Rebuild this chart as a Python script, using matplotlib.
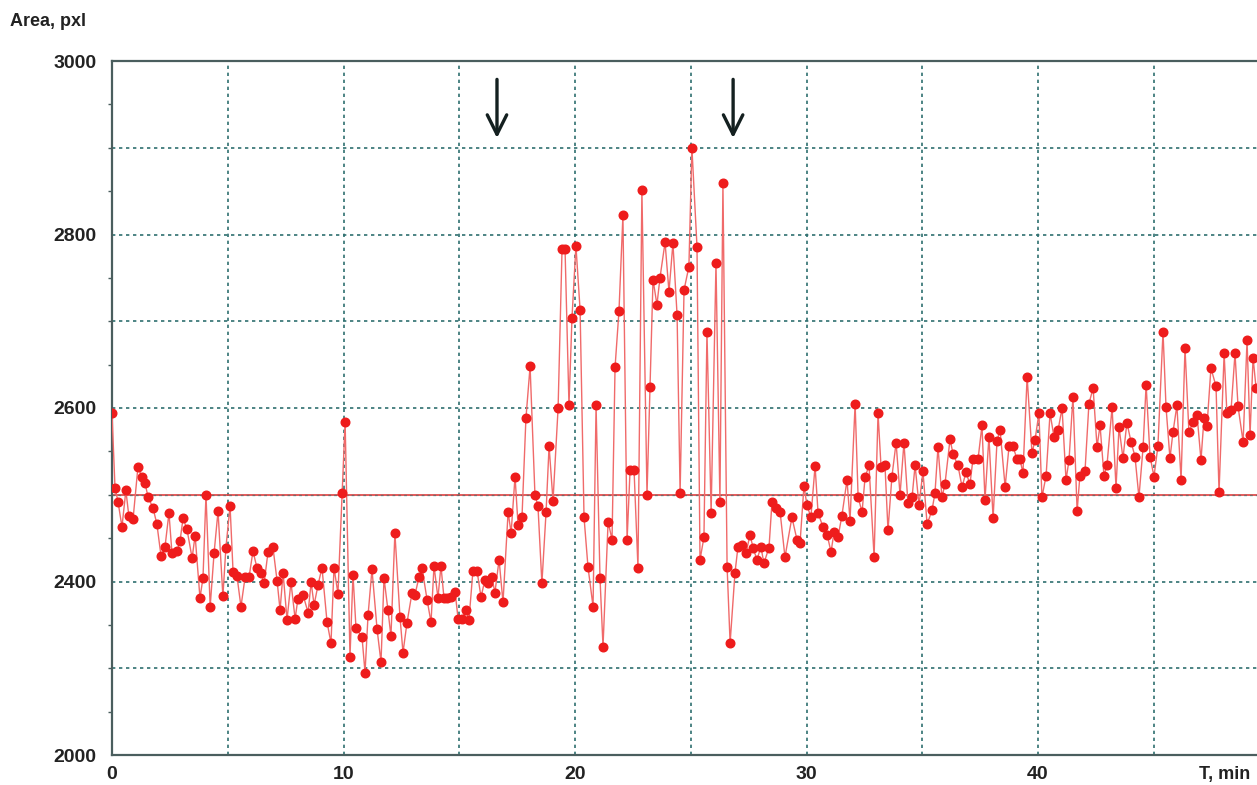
import matplotlib
matplotlib.use("Agg")
import matplotlib.pyplot as plt
from matplotlib.ticker import FixedLocator, MultipleLocator

# ---- data (minutes, area in pixels) ----
time_min = [
    0.00, 0.13, 0.26, 0.43, 0.60, 0.73, 0.91, 1.12, 1.30, 1.43, 1.56, 1.77, 1.94,
    2.12, 2.29, 2.46, 2.59, 2.81, 2.94, 3.07, 3.24, 3.46, 3.59, 3.80, 3.93,
    4.06, 4.24, 4.41, 4.58, 4.79, 4.92, 5.10, 5.23, 5.40, 5.57, 5.75, 5.92,
    6.09, 6.26, 6.44, 6.57, 6.74, 6.95, 7.13, 7.26, 7.39, 7.56, 7.73, 7.91,
    8.03, 8.25, 8.47, 8.60, 8.73, 8.90, 9.07, 9.29, 9.46, 9.59, 9.76, 9.94,
    10.07, 10.28, 10.41, 10.54, 10.80, 10.93, 11.06, 11.23, 11.45, 11.62, 11.75, 11.92,
    12.05, 12.22, 12.44, 12.57, 12.74, 12.96, 13.09, 13.26, 13.39, 13.61, 13.78, 13.91,
    14.08, 14.21, 14.34, 14.47, 14.64, 14.82, 14.95, 15.12, 15.29, 15.42, 15.59, 15.77,
    15.94, 16.11, 16.24, 16.41, 16.54, 16.72, 16.89, 17.11, 17.24, 17.41, 17.54, 17.71,
    17.88, 18.06, 18.27, 18.40, 18.57, 18.75, 18.88, 19.05, 19.27, 19.44, 19.57, 19.74,
    19.87, 20.04, 20.22, 20.39, 20.56, 20.78, 20.91, 21.08, 21.21, 21.43, 21.60, 21.73,
    21.90, 22.07, 22.25, 22.38, 22.55, 22.72, 22.89, 23.11, 23.24, 23.37, 23.54, 23.67,
    23.89, 24.06, 24.23, 24.41, 24.54, 24.71, 24.92, 25.05, 25.27, 25.40, 25.57, 25.70,
    25.88, 26.09, 26.26, 26.39, 26.57, 26.70, 26.91, 27.04, 27.21, 27.39, 27.56, 27.69,
    27.86, 28.03, 28.16, 28.38, 28.51, 28.68, 28.86, 29.07, 29.37, 29.59, 29.72, 29.89,
    30.02, 30.19, 30.37, 30.50, 30.71, 30.89, 31.06, 31.19, 31.36, 31.53, 31.75, 31.88,
    32.10, 32.23, 32.40, 32.53, 32.70, 32.92, 33.09, 33.22, 33.39, 33.52, 33.69, 33.87,
    34.04, 34.21, 34.38, 34.56, 34.69, 34.86, 35.03, 35.21, 35.42, 35.55, 35.68, 35.85,
    35.98, 36.20, 36.33, 36.54, 36.72, 36.89, 37.06, 37.19, 37.41, 37.58, 37.71, 37.88,
    38.06, 38.23, 38.36, 38.58, 38.75, 38.92, 39.09, 39.22, 39.35, 39.53, 39.74, 39.87,
    40.04, 40.17, 40.35, 40.52, 40.69, 40.87, 41.04, 41.21, 41.34, 41.51, 41.69, 41.81,
    42.03, 42.20, 42.38, 42.55, 42.68, 42.85, 42.98, 43.20, 43.37, 43.50, 43.67, 43.84,
    44.02, 44.19, 44.36, 44.54, 44.67, 44.84, 45.01, 45.18, 45.40, 45.53, 45.70, 45.83,
    46.00, 46.18, 46.35, 46.52, 46.70, 46.87, 47.04, 47.17, 47.30, 47.47, 47.69, 47.82,
    48.04, 48.16, 48.34, 48.51, 48.64, 48.86, 49.03, 49.16, 49.29, 49.42,
]
area_pxl = [
    2594, 2508, 2492, 2463, 2505, 2475, 2472, 2532, 2520, 2513, 2497, 2485, 2466,
    2429, 2440, 2479, 2433, 2435, 2447, 2473, 2460, 2427, 2453, 2381, 2404,
    2500, 2371, 2433, 2481, 2383, 2439, 2487, 2411, 2406, 2371, 2405, 2405,
    2435, 2416, 2410, 2398, 2434, 2440, 2401, 2367, 2410, 2356, 2399, 2357,
    2380, 2385, 2364, 2399, 2373, 2396, 2416, 2353, 2329, 2416, 2386, 2502,
    2584, 2313, 2408, 2346, 2336, 2295, 2361, 2414, 2345, 2307, 2404, 2367,
    2337, 2456, 2359, 2318, 2352, 2387, 2385, 2405, 2416, 2379, 2353, 2418,
    2381, 2418, 2381, 2381, 2382, 2388, 2357, 2357, 2367, 2356, 2412, 2412,
    2382, 2402, 2398, 2405, 2387, 2425, 2376, 2480, 2456, 2521, 2465, 2474,
    2588, 2648, 2500, 2487, 2398, 2480, 2556, 2493, 2600, 2783, 2783, 2603,
    2704, 2787, 2713, 2474, 2417, 2371, 2603, 2404, 2325, 2469, 2448, 2647,
    2712, 2822, 2448, 2529, 2529, 2416, 2851, 2500, 2624, 2748, 2719, 2750,
    2791, 2734, 2790, 2707, 2502, 2736, 2763, 2900, 2786, 2425, 2451, 2688,
    2479, 2767, 2492, 2859, 2417, 2329, 2410, 2440, 2442, 2433, 2454, 2439,
    2425, 2440, 2421, 2439, 2492, 2485, 2480, 2428, 2474, 2448, 2444, 2510,
    2488, 2474, 2533, 2479, 2463, 2454, 2434, 2457, 2451, 2476, 2517, 2470,
    2605, 2497, 2480, 2520, 2534, 2428, 2594, 2532, 2534, 2459, 2521, 2560,
    2500, 2560, 2491, 2497, 2534, 2488, 2527, 2466, 2482, 2502, 2555, 2497,
    2512, 2564, 2547, 2534, 2509, 2526, 2512, 2541, 2541, 2580, 2494, 2567,
    2473, 2562, 2575, 2509, 2556, 2556, 2541, 2541, 2525, 2636, 2548, 2563,
    2594, 2497, 2522, 2594, 2567, 2575, 2600, 2517, 2540, 2613, 2481, 2522,
    2527, 2605, 2623, 2555, 2580, 2522, 2534, 2601, 2508, 2578, 2542, 2583,
    2561, 2544, 2497, 2555, 2627, 2544, 2521, 2556, 2688, 2601, 2542, 2572,
    2603, 2517, 2669, 2572, 2584, 2592, 2540, 2588, 2579, 2646, 2625, 2503,
    2663, 2594, 2598, 2663, 2602, 2561, 2678, 2569, 2658, 2623,
]
baseline = 2500
arrow_times = [16.63, 26.83]
x_ticks = [0, 10, 20, 30, 40]
y_ticks = [3000, 2800, 2600, 2400, 2200]
y_tick_labels = ["3000", "2800", "2600", "2400", "2000"]

# ---- figure ----
fig = plt.figure(figsize=(12.57, 7.85), dpi=100)
ax = fig.add_axes([112 / 1257, 30 / 785, 1 - 112 / 1257, 694 / 785])
ax.set_xlim(0, 49.46)
ax.set_ylim(2200, 3000)

grid_color = "#2f6f6f"
for xv in range(5, 50, 5):
    ax.axvline(xv, color=grid_color, lw=1.2, ls=(0, (2, 2.2)), zorder=1)
for yv in range(2300, 3000, 100):
    if yv == baseline:
        continue
    ax.axhline(yv, color=grid_color, lw=1.2, ls=(0, (2, 2.2)), zorder=1)

ax.axhline(baseline, color="#e04040", lw=1.2, zorder=2)
ax.axhline(baseline, color=grid_color, lw=1.0, ls=(0, (2, 2.2)), zorder=2, alpha=0.6)

ax.plot(time_min, area_pxl, color="#f06a6a", lw=1.0, zorder=3)
ax.plot(time_min, area_pxl, ls="none", marker="o", ms=6.2,
        markerfacecolor="#ee1c1c", markeredgecolor="#ee1c1c", zorder=4)

for t in arrow_times:
    ax.annotate("", xy=(t, 2908), xytext=(t, 2982),
                arrowprops=dict(arrowstyle="->,head_length=1.4,head_width=0.7",
                                color="#142020", lw=2.4), zorder=5)

spine_color = "#4a5e5e"
for side in ["left", "top", "bottom"]:
    ax.spines[side].set_color(spine_color)
    ax.spines[side].set_linewidth(1.6)
ax.spines["right"].set_visible(False)

ax.xaxis.set_major_locator(FixedLocator(x_ticks))
ax.set_xticklabels([str(v) for v in x_ticks])
ax.yaxis.set_major_locator(FixedLocator(y_ticks))
ax.set_yticklabels(y_tick_labels)
ax.yaxis.set_minor_locator(MultipleLocator(50))
ax.tick_params(axis="both", which="major", direction="in", length=0, pad=11,
               labelsize=14, colors="#222222")
ax.tick_params(axis="y", which="minor", direction="out", length=3, width=1.0,
               color=spine_color)
for lab in ax.get_xticklabels() + ax.get_yticklabels():
    lab.set_fontweight("bold")
    lab.set_fontfamily("Liberation Sans")
ax.tick_params(axis="x", pad=8)

fig.text(10 / 1257, 1 - 22 / 785, "Area, pxl", fontsize=13, fontweight="bold",
         family="Liberation Sans", color="#222222", va="center", ha="left")
fig.text(1250 / 1257, 1 - 775 / 785, "T, min", fontsize=13, fontweight="bold",
         family="Liberation Sans", color="#222222", va="center", ha="right")

fig.savefig("out.png", dpi=100, facecolor="white")
